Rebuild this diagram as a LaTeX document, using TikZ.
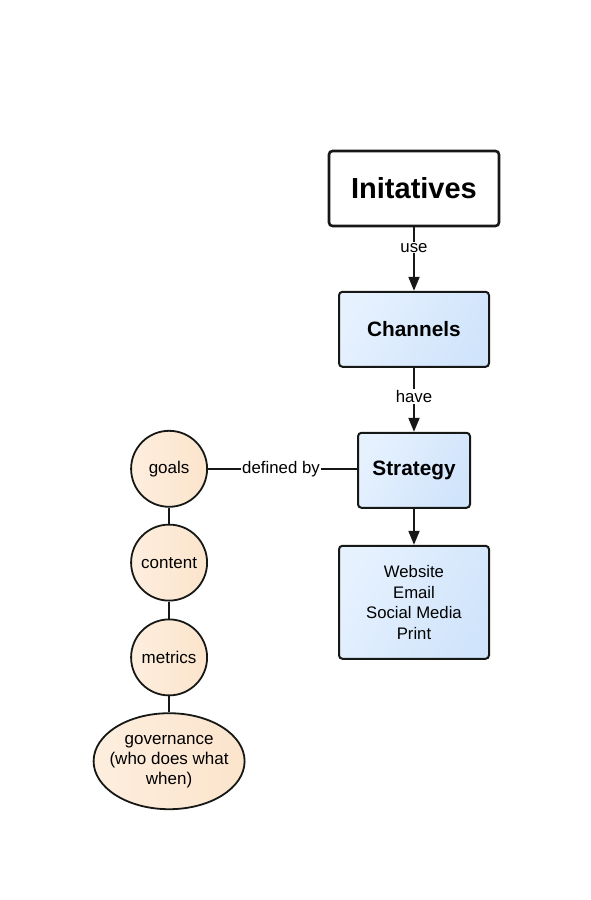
\documentclass[tikz,border=0pt]{standalone}
\usepackage{fontspec}
\setmainfont{Liberation Sans}
\usetikzlibrary{arrows.meta,positioning,shapes.geometric}
\definecolor{chLine}{RGB}{22,24,22}
\definecolor{chBlueA}{RGB}{230,241,254}
\definecolor{chBlueB}{RGB}{208,228,251}
\definecolor{chPeachA}{RGB}{253,238,222}
\definecolor{chPeachB}{RGB}{252,228,204}

\begin{document}
\begin{tikzpicture}[
      box/.style={draw=chLine,line width=2pt,rounded corners=3.5pt,align=center,
                  minimum height=75pt,inner sep=0pt},
      bluebox/.style={box,left color=chBlueA,right color=chBlueB,shading angle=60},
      topic/.style={circle,draw=chLine,line width=1.8pt,minimum size=76pt,inner sep=0pt,
                    left color=chPeachA,right color=chPeachB,font=\fontsize{17}{20}\selectfont},
      lbl/.style={fill=white,inner sep=1pt,font=\fontsize{16.8}{19}\selectfont},
      arr/.style={-{Triangle[length=14pt,width=11pt]},line width=2pt,draw=chLine},
      link/.style={line width=1.8pt,draw=chLine}]
    \useasboundingbox (0pt,0pt) rectangle (590pt,-900pt);
    \node[box,fill=white,line width=2.6pt,minimum width=170pt,font=\fontsize{29}{33}\selectfont\bfseries]
      (ini) at (414pt,-188.5pt) {Initatives};
    \node[bluebox,minimum width=150pt,font=\fontsize{20.8}{24}\selectfont\bfseries,below=63.5pt of ini] (chan) {Channels};
    \node[bluebox,minimum width=112pt,font=\fontsize{20.8}{24}\selectfont\bfseries,below=64pt of chan] (strat) {Strategy};
    \node[bluebox,minimum width=150pt,minimum height=113pt,font=\fontsize{16.7}{20.5}\selectfont,below=36pt of strat]
      (list) {Website\\ Email\\ Social Media\\ Print};
    \node[topic,left=149pt of strat,yshift=1.5pt] (goals) {goals};
    \node[topic,below=16pt of goals] (content) {content};
    \node[topic,below=17pt of content] (metrics) {metrics};
    \node[topic,ellipse,minimum width=151pt,minimum height=96pt,inner xsep=-16pt,inner ysep=-4pt,
          align=center,below=16pt of metrics]
      (gov) {governance\\ (who does what\\ when)};
    \draw[arr] (ini) -- node[lbl,pos=0.32]{use} (chan);
    \draw[arr] (chan) -- node[lbl,pos=0.45]{have} (strat);
    \draw[arr] (strat) -- (list);
    \draw[link] (goals) -- node[lbl,pos=0.49]{defined by} (goals -| strat.west);
    \draw[link] (goals) -- (content);
    \draw[link] (content) -- (metrics);
    \draw[link] (metrics) -- (gov);
  \end{tikzpicture}
\end{document}
